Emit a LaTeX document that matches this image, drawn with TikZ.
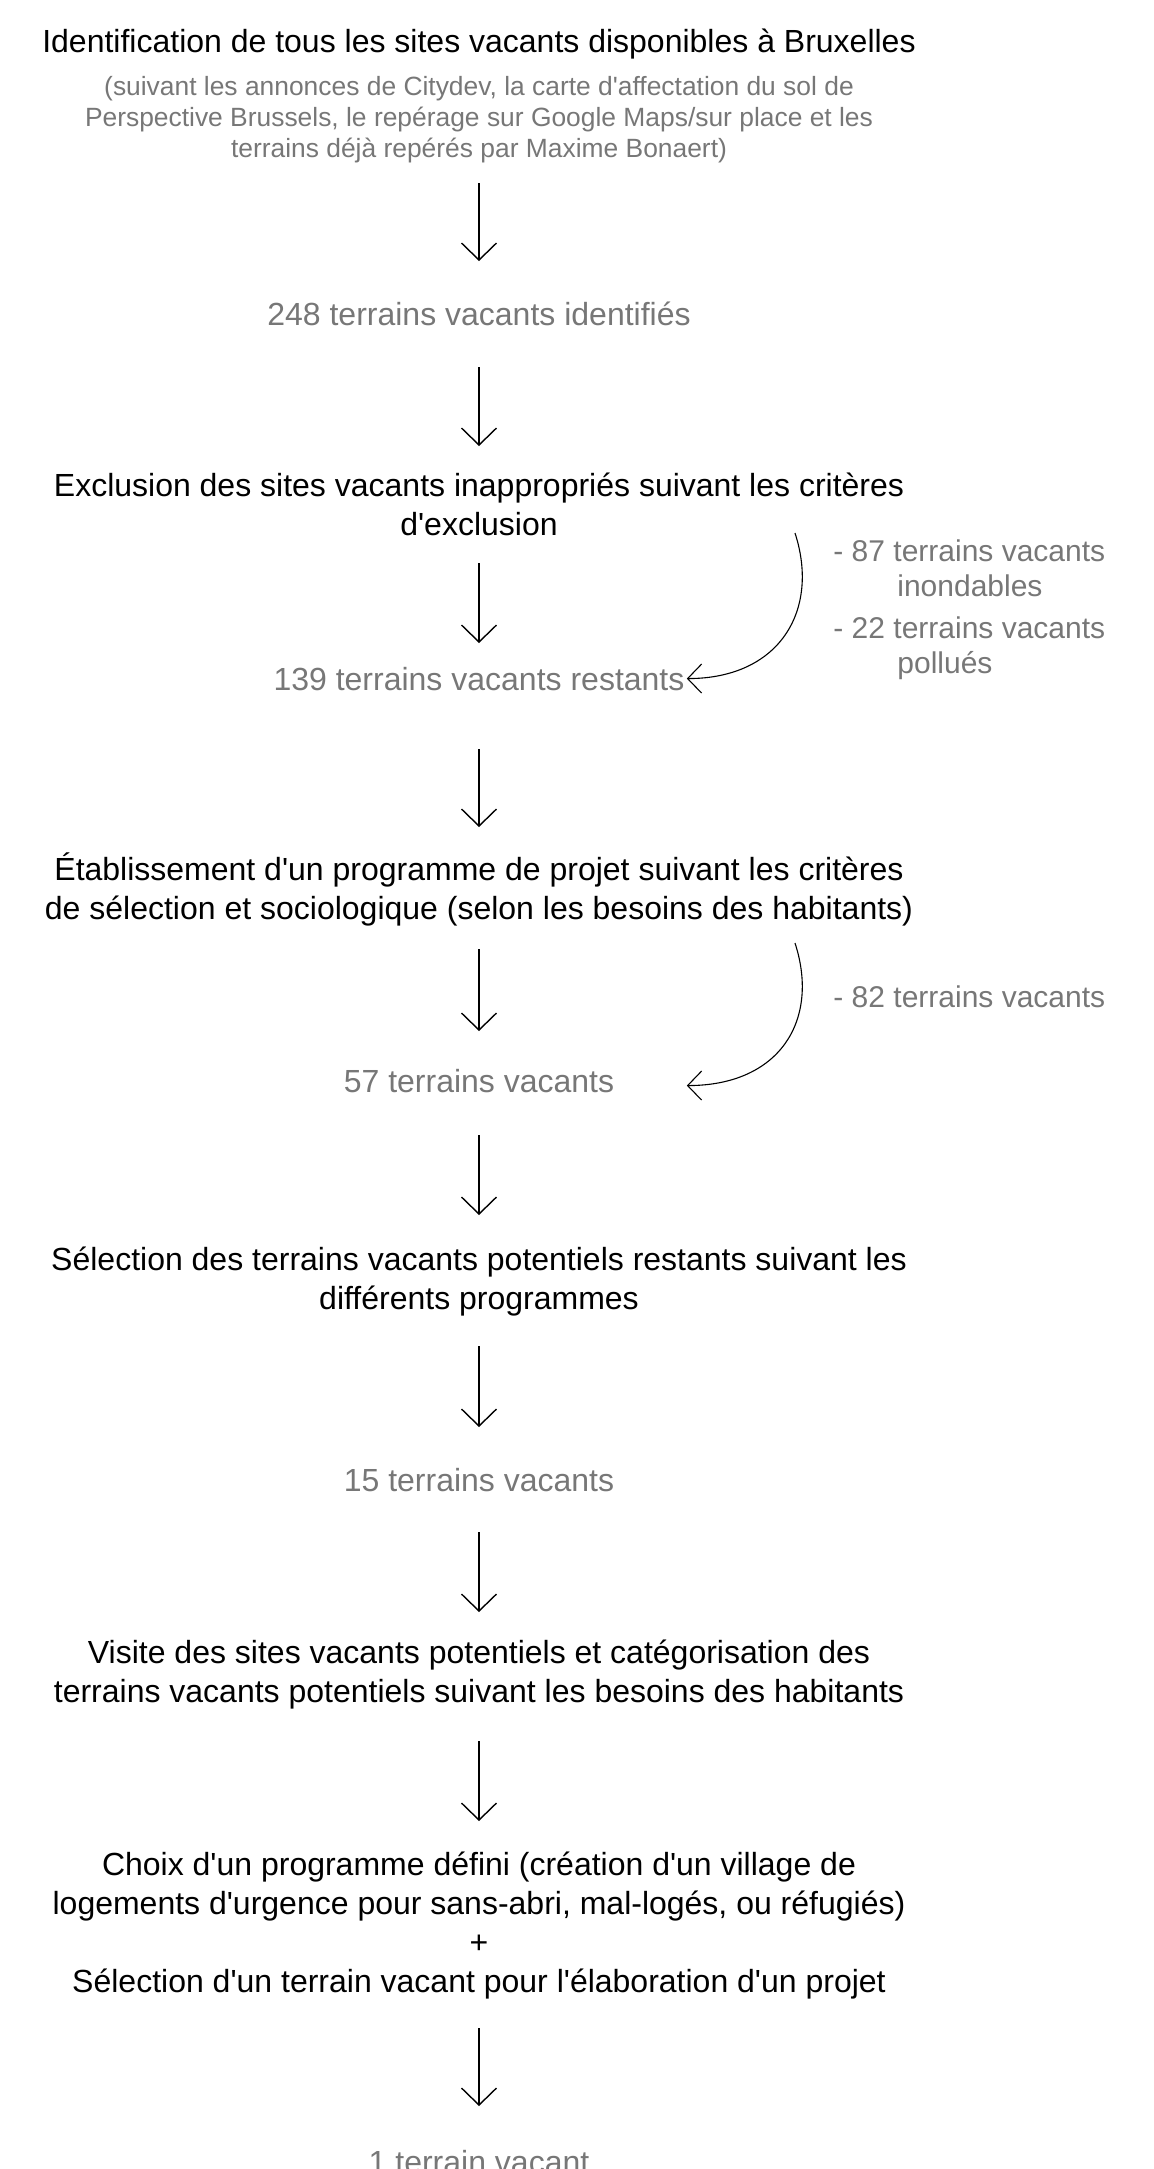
\documentclass[tikz,border=0pt]{standalone}
\usepackage{fontspec}
\setmainfont{Liberation Sans}[Ligatures=TeXOff]
\usepackage{xcolor}
\usetikzlibrary{arrows.meta, positioning}
\definecolor{greytext}{RGB}{119,119,119}

\begin{document}
\begin{tikzpicture}[stage/.style={anchor=base, align=center, inner sep=1pt, font=\fontsize{16pt}{19.5pt}\selectfont},
  tally/.style={anchor=base, inner sep=1pt, text=greytext, font=\fontsize{16pt}{19.5pt}\selectfont},
  sourcenote/.style={anchor=base, align=center, inner sep=1pt, text=greytext, font=\fontsize{13.2pt}{15.5pt}\selectfont},
  removed/.style={anchor=base west, align=left, inner sep=0pt, text=greytext, font=\fontsize{15pt}{17.5pt}\selectfont},
  flowarrow/.style={-{Straight Barb[length=8.5pt, width=17.5pt]}, line width=0.7pt},
  loopback/.style={-{Straight Barb[length=7pt, width=14.5pt]}, line width=0.55pt}]

            \useasboundingbox (0,0) rectangle (577pt,-1084.5pt);

            \node[stage] (ident) at (239.5pt,-26pt) {Identification de tous les sites vacants disponibles à Bruxelles};
            \node[below=52.5pt of ident.base, sourcenote] (source) {(suivant les annonces de Citydev, la carte d'affectation du sol de\\Perspective Brussels, le repérage sur Google Maps/sur place et les\\terrains déjà repérés par Maxime Bonaert)};
            \node[below=84pt of source.base, tally] (found) {248 terrains vacants identifiés};
            \node[below=105pt of found.base, stage] (exclude) {Exclusion des sites vacants inappropriés suivant les critères\\d'exclusion};
            \node[below=77.5pt of exclude.base, tally] (remain) {139 terrains vacants restants};
            \node[below=114.75pt of remain.base, stage] (program) {Établissement d'un programme de projet suivant les critères\\de sélection et sociologique (selon les besoins des habitants)};
            \node[below=86.25pt of program.base, tally] (fit) {57 terrains vacants};
            \node[below=108.75pt of fit.base, stage] (select) {Sélection des terrains vacants potentiels restants suivant les\\différents programmes};
            \node[below=90.75pt of select.base, tally] (shortlist) {15 terrains vacants};
            \node[below=105.5pt of shortlist.base, stage] (visit) {Visite des sites vacants potentiels et catégorisation des\\terrains vacants potentiels suivant les besoins des habitants};
            \node[below=145pt of visit.base, stage] (choice) {Choix d'un programme défini (création d'un village de\\logements d'urgence pour sans-abri, mal-logés, ou réfugiés)\\+\\Sélection d'un terrain vacant pour l'élaboration d'un projet};
            \node[below=90.5pt of choice.base, tally] (final) {1 terrain vacant};

            % sites taken out
            \node[removed] (flooded) at (416.5pt,-298.35pt) {- 87 terrains vacants\\\hspace*{32pt}inondables};
            \node[below=38.3pt of flooded.base west, removed] (polluted) {- 22 terrains vacants\\\hspace*{32pt}pollués};
            \node[below=167pt of polluted.base west, removed] (unfit) {- 82 terrains vacants};
            \coordinate (cutA) at (397.5pt,-266.5pt);
            \coordinate (cutB) at (397.5pt,-471.5pt);

            \draw[flowarrow] ([yshift=-13pt]source.base) -- ([yshift=32pt]found.base);
            \draw[flowarrow] ([yshift=-21pt]found.base) -- ([yshift=44.5pt]exclude.base);
            \draw[flowarrow] ([yshift=-14pt]exclude.base) -- ([yshift=23.5pt]remain.base);
            \draw[flowarrow] ([yshift=-29.5pt]remain.base) -- ([yshift=46.25pt]program.base);
            \draw[flowarrow] ([yshift=-14.75pt]program.base) -- ([yshift=30.5pt]fit.base);
            \draw[flowarrow] ([yshift=-21.5pt]fit.base) -- ([yshift=47.25pt]select.base);
            \draw[flowarrow] ([yshift=-18.25pt]select.base) -- ([yshift=32pt]shortlist.base);
            \draw[flowarrow] ([yshift=-20.5pt]shortlist.base) -- ([yshift=45pt]visit.base);
            \draw[flowarrow] ([yshift=-19.5pt]visit.base) -- ([yshift=85.5pt]choice.base);
            \draw[flowarrow] ([yshift=-18pt]choice.base) -- ([yshift=33.5pt]final.base);

            \draw[loopback] (cutA) to[out=-72, in=0, out distance=40.5pt, in distance=46.5pt] (remain.east);
            \draw[loopback] (cutB) to[out=-72, in=0, out distance=40.5pt, in distance=46.5pt] ([yshift=-2.5pt]remain.east |- fit.east);

        \end{tikzpicture}
\end{document}
